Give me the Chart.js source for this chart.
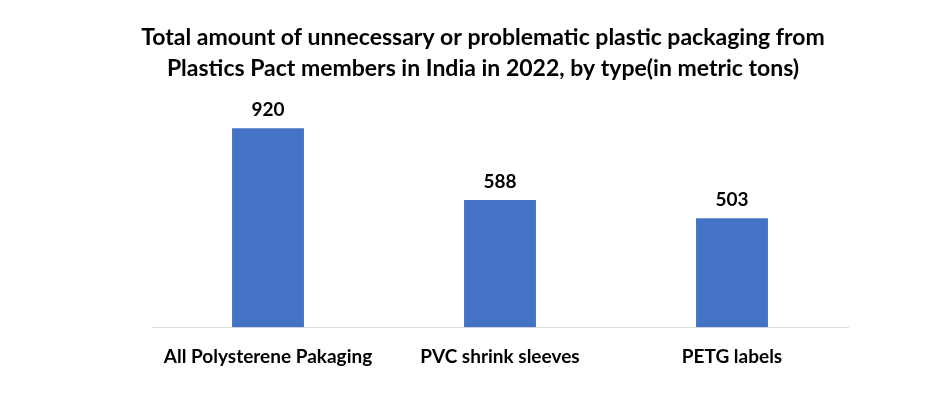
<!DOCTYPE html>
<html>
<head>
<meta charset="utf-8">
<script src="https://cdn.jsdelivr.net/npm/chart.js@4/dist/chart.umd.min.js"></script>
<style>
  html, body { margin: 0; padding: 0; background: #fff; }
  #wrap { width: 932px; height: 402px; }
</style>
</head>
<body>
<div id="wrap"><canvas id="myChart" width="932" height="402"></canvas></div>
<script>
const categories = ['All Polysterene Pakaging', 'PVC shrink sleeves', 'PETG labels']
const values = [920, 588, 503]
const titleLines = ['Total amount of unnecessary or problematic plastic packaging from', 'Plastics Pact members in India in 2022, by type(in metric tons)']

// title and values above bars
const barLabels = {
    id: 'barLabels',
    afterDatasetsDraw(chart) {
        const ctx = chart.ctx
        const meta = chart.getDatasetMeta(0)
        ctx.save()
        ctx.fillStyle = '#000'
        ctx.textAlign = 'center'
        ctx.textBaseline = 'middle'
        ctx.font = 'bold 23px Lato'
        ctx.fillText(titleLines[0], 483, 38)
        ctx.fillText(titleLines[1], 483, 69)
        ctx.font = 'bold 19px Lato'
        ctx.textBaseline = 'bottom'
        meta.data.forEach((bar, i) => {
            ctx.fillText(values[i], bar.x, bar.y - 9)
        })
        ctx.restore()
    }
}

const ctx = document.getElementById('myChart').getContext('2d')
const myChart = new Chart(ctx, {
    type: 'bar',
    data: {
        labels: categories,
        datasets: [{
            data: values,
            backgroundColor: '#4472C4',
            barPercentage: 0.62,
            categoryPercentage: 0.5
        }]
    },
    options: {
        responsive: false,
        animation: false,
        layout: { padding: { left: 152, right: 84, top: 100, bottom: 16 } },
        plugins: {
            legend: { display: false },
            tooltip: { enabled: false },
            title: { display: false }
        },
        scales: {
            x: {
                grid: { display: false, drawTicks: false },
                border: { color: '#d9d9d9' },
                ticks: { color: '#000', font: { family: 'Lato', size: 19, weight: 'bold' }, padding: 18 }
            },
            y: {
                display: false,
                min: 0,
                max: 1050
            }
        }
    },
    plugins: [barLabels]
})
</script>
</body>
</html>
